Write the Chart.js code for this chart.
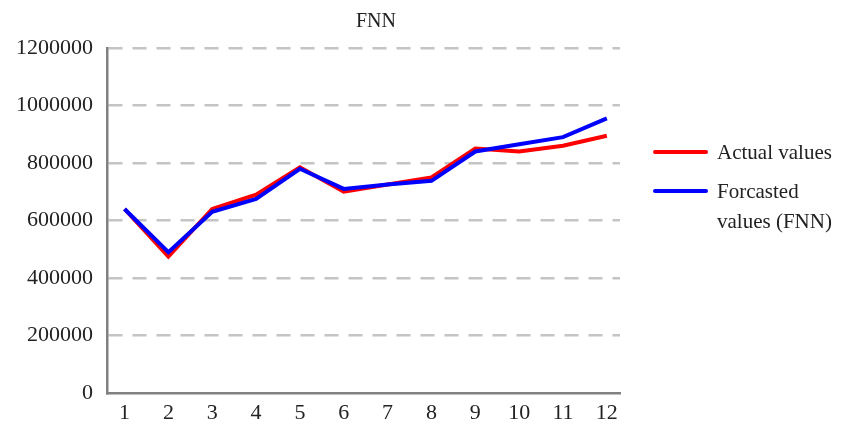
<!doctype html>
<html lang="en">
<head>
    <title>FNN</title>
    <script src="https://cdnjs.cloudflare.com/ajax/libs/Chart.js/4.4.1/chart.umd.min.js"></script>
    <style>
        body { margin: 0; background: #fff; }
        #wrap { position: relative; width: 859px; height: 430px; }
        #chart { position: absolute; left: 0; top: 0; }
        .key { position: absolute; left: 653px; width: 55px; height: 4px; border-radius: 2px; }
        .txt { position: absolute; left: 717px; font: 21px "Liberation Serif", serif; color: #222; line-height: 30px; }
    </style>
</head>
<body onload="init()">
<div id="wrap">
    <canvas id="chart" width="752" height="430"></canvas>
    <div class="key" style="top: 150px; background: #ff0000;"></div>
    <div class="txt" style="top: 137px;">Actual values</div>
    <div class="key" style="top: 189px; background: #0000ff;"></div>
    <div class="txt" style="top: 176px;">Forcasted<br>values (FNN)</div>
</div>

<script>
    const months = [1, 2, 3, 4, 5, 6, 7, 8, 9, 10, 11, 12];
    const actualValues = [640000, 475000, 640000, 690000, 785000, 700000, 725000, 750000, 850000, 840000, 860000, 895000];
    const forecastValues = [640000, 490000, 630000, 675000, 780000, 710000, 725000, 738000, 840000, 865000, 890000, 955000];
    const yTicks = [0, 200000, 400000, 600000, 800000, 1000000, 1200000];

    function init() {
        const serif = '"Liberation Serif", serif';
        const pts = (vals) => vals.map((v, i) => ({x: months[i], y: v}));

        new Chart(document.getElementById('chart'), {
            type: 'line',
            data: {
                datasets: [
                    {
                        label: 'Actual values',
                        data: pts(actualValues),
                        borderColor: '#ff0000',
                        borderWidth: 4,
                        pointRadius: 0,
                        order: 2,
                    },
                    {
                        label: 'Forcasted values (FNN)',
                        data: pts(forecastValues),
                        borderColor: '#0000ff',
                        borderWidth: 4,
                        pointRadius: 0,
                        order: 1,
                    },
                ],
            },
            options: {
                responsive: false,
                animation: false,
                layout: {padding: 0},
                plugins: {
                    legend: {display: false},
                    tooltip: {enabled: false},
                    title: {
                        display: true,
                        text: 'FNN',
                        color: '#222',
                        font: {family: serif, size: 20, weight: 'normal'},
                        padding: {top: 10, bottom: 14},
                    },
                },
                scales: {
                    x: {
                        type: 'linear',
                        min: 0.6,
                        max: 12.3,
                        afterBuildTicks: (scale) => {
                            scale.ticks = months.map(v => ({value: v}));
                        },
                        afterFit: (scale) => { scale.height = 37; },
                        grid: {display: true, drawOnChartArea: false, drawTicks: false},
                        border: {color: '#808080', width: 2.5},
                        ticks: {
                            color: '#222',
                            font: {family: serif, size: 22},
                            padding: 7,
                            autoSkip: false,
                            maxRotation: 0,
                            callback: (v) => String(v),
                        },
                    },
                    y: {
                        min: 0,
                        max: 1200000,
                        afterBuildTicks: (scale) => {
                            scale.ticks = yTicks.map(v => ({value: v}));
                        },
                        afterFit: (scale) => { scale.width = 107; },
                        grid: {
                            drawTicks: false,
                            lineWidth: 2.5,
                            color: (ctx) => ctx.tick && ctx.tick.value === 0 ? 'rgba(0,0,0,0)' : '#c4c4c4',
                        },
                        border: {color: '#808080', width: 2.5, dash: [14, 10]},
                        ticks: {
                            color: '#222',
                            font: {family: serif, size: 22},
                            padding: 14,
                            callback: (v) => String(v),
                        },
                    },
                    // empty right-hand space for the legend, keeps the title centred on the whole figure
                    legendSpace: {
                        type: 'linear',
                        position: 'right',
                        display: true,
                        afterFit: (scale) => { scale.width = 132; },
                        grid: {drawOnChartArea: false, drawTicks: false},
                        border: {display: false},
                        ticks: {display: false},
                    },
                },
            },
        });
    }
</script>
</body>
</html>
